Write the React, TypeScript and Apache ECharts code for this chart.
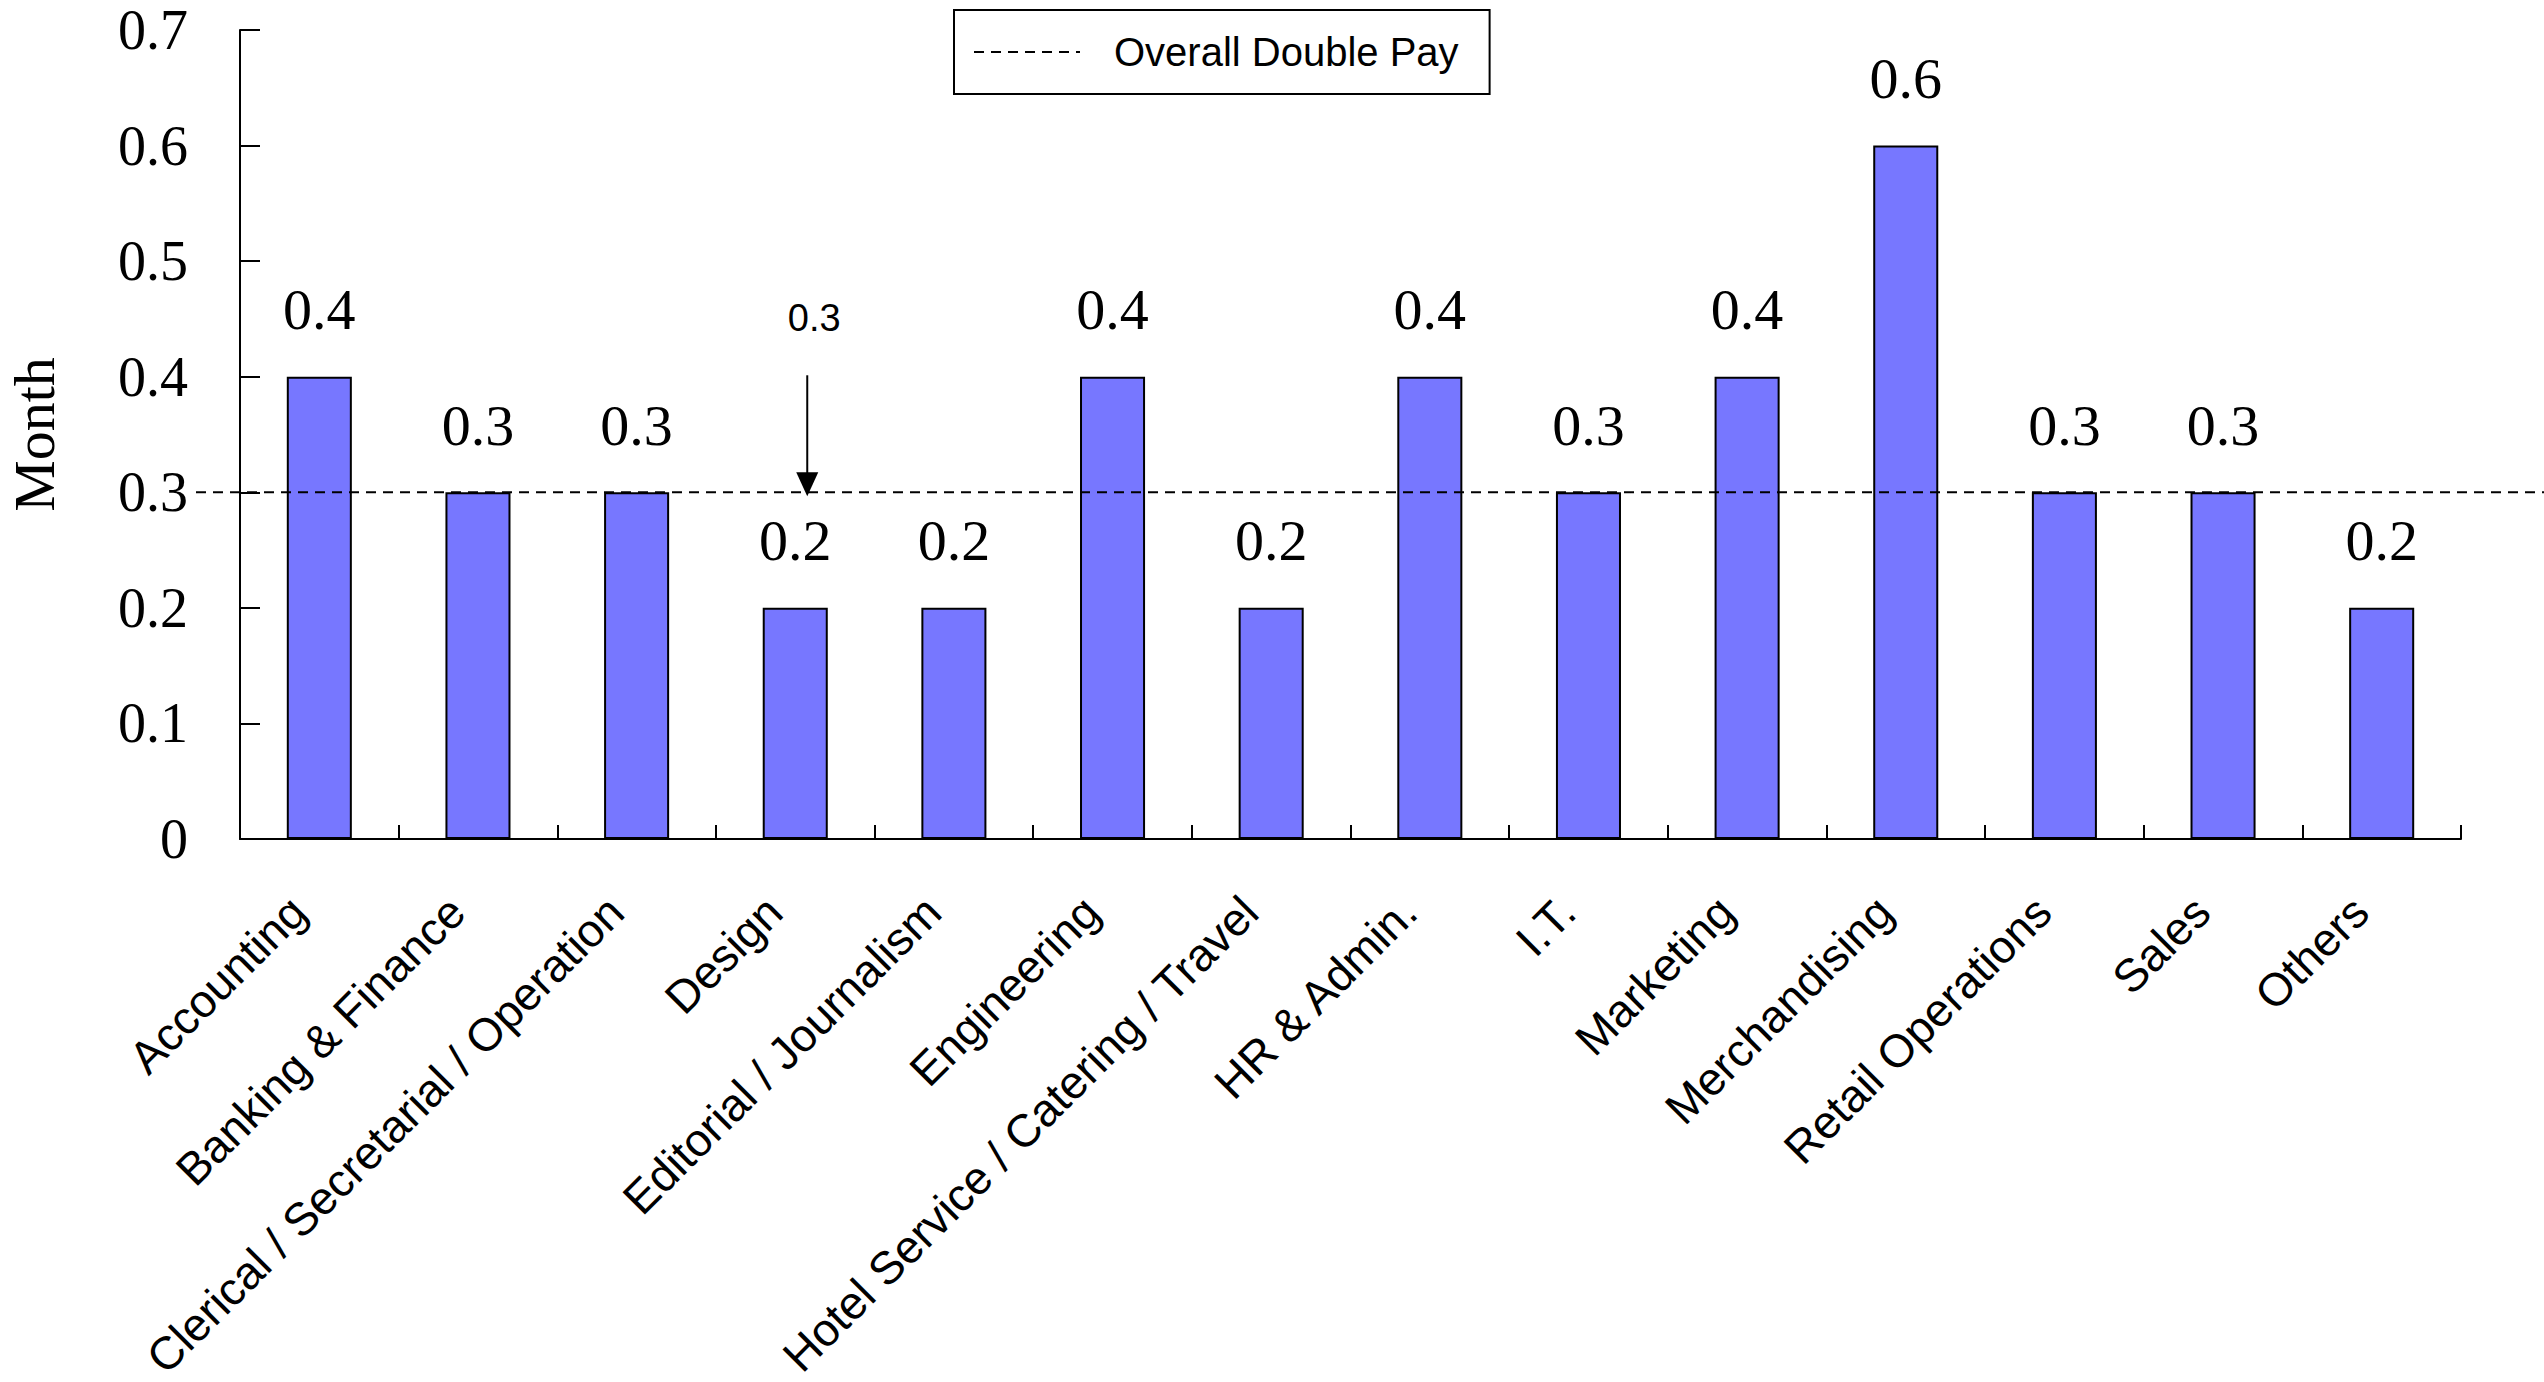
import React, { useEffect, useRef } from "react";
import * as echarts from "echarts";

// Job functions and their average double pay (in months)
const categories = [
  "Accounting",
  "Banking & Finance",
  "Clerical / Secretarial / Operation",
  "Design",
  "Editorial / Journalism",
  "Engineering",
  "Hotel Service / Catering / Travel",
  "HR & Admin.",
  "I.T.",
  "Marketing",
  "Merchandising",
  "Retail Operations",
  "Sales",
  "Others",
];
const monthValues = [0.4, 0.3, 0.3, 0.2, 0.2, 0.4, 0.2, 0.4, 0.3, 0.4, 0.6, 0.3, 0.3, 0.2];

// Overall double pay reference level
const overallName = "Overall Double Pay";
const overallDoublePay = 0.3;
const overallSpan = [0, 1];

// Value axis range
const yMin = 0;
const yMax = 0.7;
const yStep = 0.1;

const SERIF = "'Liberation Serif', 'DejaVu Serif', serif";
const SANS = "'Liberation Sans', Arial, sans-serif";

export default function App() {
  const ref = useRef<HTMLDivElement>(null);

  useEffect(() => {
    if (!ref.current) return;
    const chart = echarts.init(ref.current, undefined, { renderer: "svg" });

    const gridTop = 30;
    const gridBottom = 543;

    chart.setOption({
      animation: false,
      backgroundColor: "#ffffff",
      legend: {
        data: [overallName],
        left: 954,
        top: 10,
        itemWidth: 106,
        itemHeight: 14,
        itemStyle: { opacity: 0, color: "rgba(0,0,0,0)", borderWidth: 0 },
        borderColor: "#000",
        borderWidth: 2,
        borderRadius: 0,
        padding: [22, 31, 22, 19],
        textStyle: {
          fontFamily: SANS,
          fontSize: 40,
          color: "#000",
          padding: [0, 0, 0, 29],
        },
      },
      grid: [
        {
          left: 240,
          right: 83,
          top: gridTop,
          bottom: gridBottom,
          containLabel: false,
          outerBoundsMode: "none",
        },
        {
          left: 196,
          right: 0,
          top: gridTop,
          bottom: gridBottom,
          containLabel: false,
          outerBoundsMode: "none",
        },
      ],
      xAxis: [
        {
          type: "category",
          gridIndex: 0,
          data: categories,
          axisLine: { show: true, lineStyle: { color: "#000", width: 2 } },
          axisTick: { show: true, inside: true, length: 14, lineStyle: { color: "#000", width: 2 } },
          axisLabel: {
            rotate: 45,
            interval: 0,
            margin: 44,
            padding: [0, 30, 0, 0],
            fontFamily: SANS,
            fontSize: 46,
            color: "#000",
          },
          splitLine: { show: false },
        },
        {
          type: "value",
          gridIndex: 1,
          min: overallSpan[0],
          max: overallSpan[1],
          show: false,
        },
      ],
      yAxis: [
        {
          type: "value",
          gridIndex: 0,
          min: yMin,
          max: yMax,
          interval: yStep,
          name: "Month",
          nameLocation: "middle",
          nameRotate: 90,
          nameGap: 183,
          nameTextStyle: { fontFamily: SERIF, fontSize: 58, lineHeight: 46, color: "#000" },
          axisLine: { show: true, lineStyle: { color: "#000", width: 2 } },
          axisTick: { show: true, inside: true, length: 20, lineStyle: { color: "#000", width: 2 } },
          axisLabel: {
            margin: 52,
            fontFamily: SERIF,
            fontSize: 56,
            lineHeight: 46,
            color: "#000",
            formatter: (v: number) => (v === 0 ? "0" : v.toFixed(1)),
          },
          splitLine: { show: false },
        },
        {
          type: "value",
          gridIndex: 1,
          min: yMin,
          max: yMax,
          show: false,
        },
      ],
      series: [
        {
          type: "bar",
          xAxisIndex: 0,
          yAxisIndex: 0,
          data: monthValues,
          barWidth: "41%",
          itemStyle: { color: "#7777ff", borderColor: "#000", borderWidth: 2 },
          label: {
            show: true,
            position: "top",
            distance: 38,
            fontFamily: SERIF,
            fontSize: 58,
            color: "#000",
            formatter: (p: any) => (p.value as number).toFixed(1),
          },
        },
        {
          type: "line",
          name: overallName,
          xAxisIndex: 1,
          yAxisIndex: 1,
          data: overallSpan.map((x) => [x, overallDoublePay]),
          symbol: "none",
          lineStyle: { color: "#000", width: 2, type: [10, 7] },
          z: 5,
        },
      ],
    });

    // Callout arrow pointing at the overall level above "Design"
    const [cx, tipY] = chart.convertToPixel({ xAxisIndex: 0, yAxisIndex: 0 }, [
      "Design",
      overallDoublePay,
    ]) as number[];
    const ax = cx + 12;
    chart.setOption({
      graphic: [
        {
          type: "line",
          shape: { x1: ax, y1: tipY - 117, x2: ax, y2: tipY - 18 },
          style: { stroke: "#000", lineWidth: 2 },
          z: 10,
        },
        {
          type: "polygon",
          shape: {
            points: [
              [ax - 11, tipY - 20],
              [ax + 11, tipY - 20],
              [ax, tipY + 4],
            ],
          },
          style: { fill: "#000" },
          z: 10,
        },
        {
          type: "text",
          x: ax + 7,
          y: tipY - 174,
          style: {
            text: overallDoublePay.toFixed(1),
            fontFamily: SANS,
            fontSize: 38,
            fill: "#000",
            align: "center",
            verticalAlign: "middle",
          },
          z: 10,
        },
      ],
    });

    return () => chart.dispose();
  }, []);

  return (
    <div
      ref={ref}
      style={{ position: "fixed", left: 0, top: 0, width: 2544, height: 1382, background: "#fff" }}
    />
  );
}
